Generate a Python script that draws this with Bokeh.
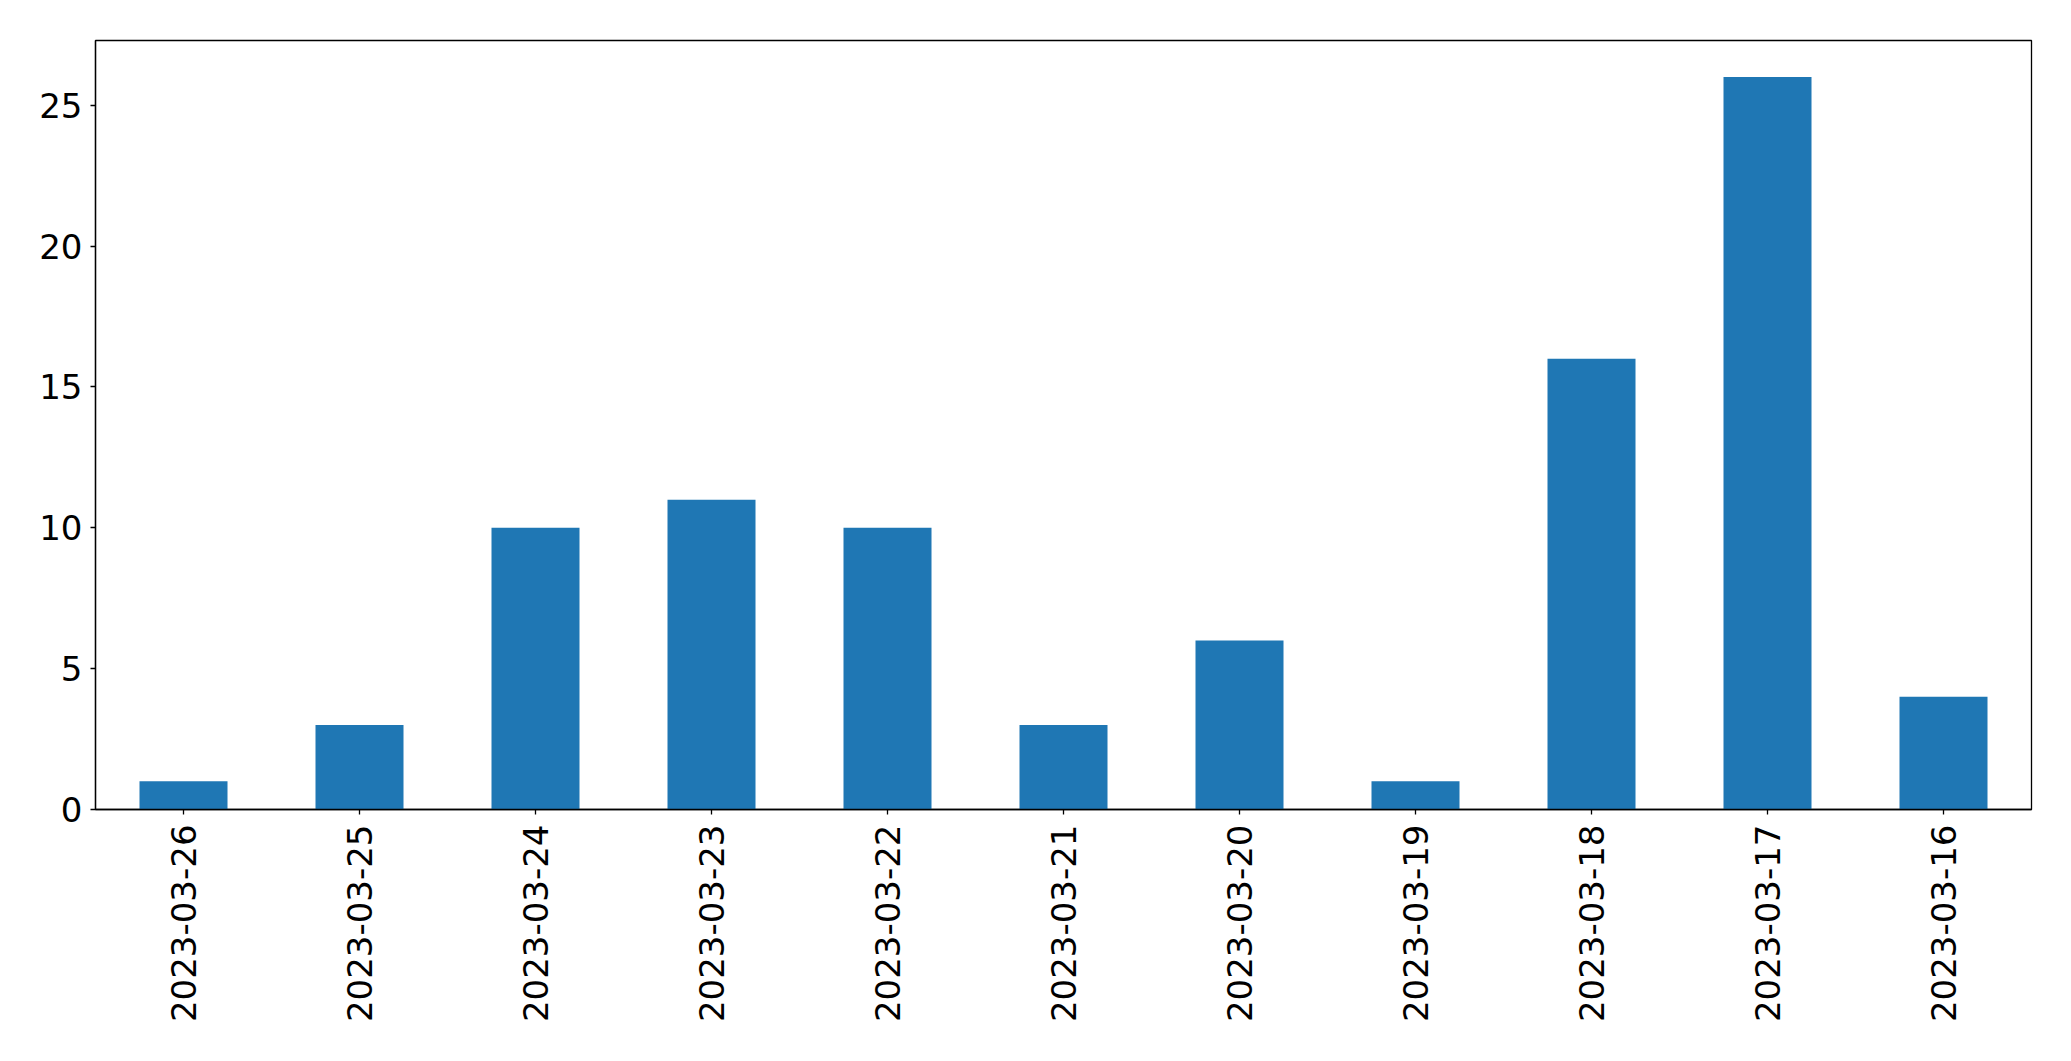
import math
from bokeh.plotting import figure
from bokeh.models import FactorRange, Range1d, FixedTicker, ColumnDataSource
from bokeh.embed import file_html
from bokeh.resources import INLINE

dates = ["2023-03-26", "2023-03-25", "2023-03-24", "2023-03-23", "2023-03-22",
         "2023-03-21", "2023-03-20", "2023-03-19", "2023-03-18", "2023-03-17",
         "2023-03-16"]
counts = [1, 3, 10, 11, 10, 3, 6, 1, 16, 26, 4]
y_ticks = [0, 5, 10, 15, 20, 25]

src = ColumnDataSource(data=dict(date=dates, count=counts))

p = figure(width=2055, height=1045, output_backend="svg", toolbar_location=None,
           x_range=FactorRange(factors=dates, range_padding=0),
           y_range=Range1d(0, max(counts) * 1.05),
           min_border_left=95, min_border_right=24, min_border_top=40,
           min_border_bottom=236)

p.vbar(x="date", top="count", width=0.5, bottom=0, source=src,
       fill_color="#1f77b4", line_color=None)

p.xgrid.visible = False
p.ygrid.visible = False
p.outline_line_color = "black"
p.outline_line_width = 1.3
p.background_fill_color = "white"
p.border_fill_color = "white"

for ax in (p.xaxis[0], p.yaxis[0]):
    ax.axis_line_color = "black"
    ax.axis_line_width = 1.3
    ax.major_tick_line_color = "black"
    ax.major_tick_line_width = 1.3
    ax.major_tick_out = 5
    ax.major_tick_in = 0
    ax.minor_tick_line_color = None
    ax.major_label_text_font = "DejaVu Sans"
    ax.major_label_text_font_size = "34px"
    ax.major_label_text_color = "black"

p.yaxis[0].ticker = FixedTicker(ticks=y_ticks)
p.yaxis[0].major_label_standoff = 8
p.xaxis[0].major_label_orientation = math.pi / 2
p.xaxis[0].major_label_standoff = 10

open("out.html", "w").write(file_html(p, INLINE))
